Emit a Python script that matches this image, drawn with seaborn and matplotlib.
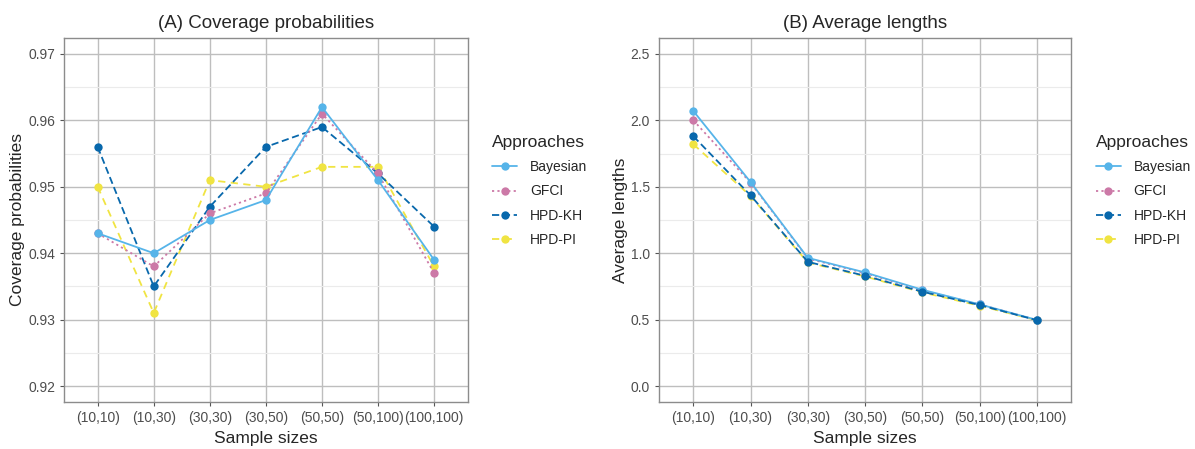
import pandas as pd
import seaborn as sns
import matplotlib.pyplot as plt
from matplotlib.ticker import MultipleLocator

sizes = ["(10,10)", "(10,30)", "(30,30)", "(30,50)", "(50,50)", "(50,100)", "(100,100)"]
approaches = ["Bayesian", "GFCI", "HPD-KH", "HPD-PI"]

# coverage probabilities
cov_bayes = [0.943, 0.940, 0.945, 0.948, 0.962, 0.951, 0.939]
cov_gfci = [0.943, 0.938, 0.946, 0.949, 0.961, 0.952, 0.937]
cov_kh = [0.956, 0.935, 0.947, 0.956, 0.959, 0.952, 0.944]
cov_pi = [0.950, 0.931, 0.951, 0.950, 0.953, 0.953, 0.938]

# average lengths
len_bayes = [2.07, 1.535, 0.965, 0.855, 0.725, 0.615, 0.498]
len_gfci = [2.00, 1.530, 0.960, 0.850, 0.720, 0.615, 0.497]
len_kh = [1.88, 1.435, 0.935, 0.830, 0.710, 0.610, 0.496]
len_pi = [1.82, 1.430, 0.930, 0.825, 0.705, 0.605, 0.495]

colors = {"Bayesian": "#56B4E9", "GFCI": "#CC79A7", "HPD-KH": "#0868AC", "HPD-PI": "#F0E442"}
dashes = {"Bayesian": "", "GFCI": (1.2, 1.8), "HPD-KH": (4, 2), "HPD-PI": (4, 3)}
markers = {a: "o" for a in approaches}


def to_long(series, name):
    rows = []
    for a, vals in zip(approaches, series):
        for s, v in zip(sizes, vals):
            rows.append({"Sample sizes": s, name: v, "Approaches": a})
    return pd.DataFrame(rows)


df_cov = to_long([cov_bayes, cov_gfci, cov_kh, cov_pi], "Coverage probabilities")
df_len = to_long([len_bayes, len_gfci, len_kh, len_pi], "Average lengths")

sns.set_style("white")
plt.rcParams['font.family'] = ['Liberation Sans', 'DejaVu Sans']

fig = plt.figure(figsize=(11.95, 4.49), dpi=100)
ax1 = fig.add_axes([0.0536, 0.1047, 0.3378, 0.8107])
ax2 = fig.add_axes([0.5515, 0.1047, 0.3448, 0.8107])


def draw(ax, df, ycol, title, ylim, major, zorders):
    sns.lineplot(data=df, x="Sample sizes", y=ycol, hue="Approaches", style="Approaches",
                 palette=colors, dashes=dashes, markers=markers, sort=False,
                 markersize=6, markeredgewidth=0, linewidth=1.3, ax=ax)
    for line, z in zip(ax.lines[:4], zorders):
        line.set_zorder(z)
    ax.set_xlim(-0.6, 6.6)
    ax.set_ylim(*ylim)
    ax.yaxis.set_major_locator(MultipleLocator(major))
    ax.yaxis.set_minor_locator(MultipleLocator(major / 2))
    ax.grid(which="major", color="#bebebe", linewidth=1.0)
    ax.grid(which="minor", axis="y", color="#ebebeb", linewidth=0.8)
    ax.set_axisbelow(True)
    for sp in ax.spines.values():
        sp.set_color("#8c8c8c")
        sp.set_linewidth(1.0)
    ax.tick_params(axis="both", which="major", length=3, color="#555555",
                   labelsize=10, labelcolor="#4d4d4d", direction="out",
                   bottom=True, left=True)
    ax.tick_params(which="minor", length=0)
    ax.set_title(title, fontsize=13.5, pad=7)
    ax.set_xlabel("Sample sizes", fontsize=12.5)
    ax.set_ylabel(ycol, fontsize=12.5, labelpad=2)
    leg = ax.legend(title="Approaches", loc="center left", bbox_to_anchor=(1.03, 0.58),
                    frameon=False, fontsize=10, title_fontsize=12.5,
                    handlelength=1.8, labelspacing=0.75, handletextpad=0.9)
    leg._legend_box.align = "left"


draw(ax1, df_cov, "Coverage probabilities", "(A) Coverage probabilities",
     (0.9176, 0.9724), 0.01, [5, 4, 3, 2])
ax1.yaxis.set_major_formatter(plt.FormatStrFormatter("%.2f"))
draw(ax2, df_len, "Average lengths", "(B) Average lengths",
     (-0.12, 2.62), 0.5, [4, 3, 5, 2])
ax2.yaxis.set_major_formatter(plt.FormatStrFormatter("%.1f"))

fig.savefig("out.png", dpi=100)
